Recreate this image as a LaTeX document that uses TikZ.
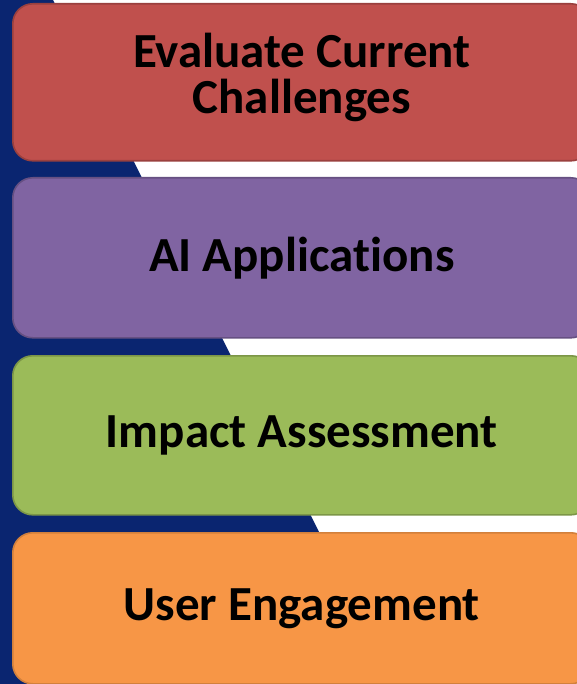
\documentclass[tikz,border=0pt]{standalone}
\usepackage{fontspec}
\setmainfont{Carlito}[RawFeature={-liga}]
\begin{document}
\begin{tikzpicture}[x=1pt,y=-1pt,
  stage/.style={rounded corners=20pt, line width=1.6pt, minimum width=578pt,
    inner sep=0pt},
  label/.style={font=\fontsize{49}{46}\selectfont\bfseries, text=black,
    align=center, inner sep=0pt}]
\definecolor{navy}{HTML}{0A2570}
\definecolor{cred}{HTML}{C0504D}
\definecolor{cpurple}{HTML}{8064A2}
\definecolor{cgreen}{HTML}{9BBB59}
\definecolor{corange}{HTML}{F79646}
\useasboundingbox (0,0) rectangle (577,684);
\clip (0,0) rectangle (577,684);
\fill[white] (0,0) rectangle (577,684);
% slanted dark backdrop behind the stack
\fill[navy] (0,0) -- (53,0) -- (395,684) -- (0,684) -- cycle;
% the four stacked stages, running past the right edge
\node[stage, fill=cred, draw=cred!80!black, minimum height=157pt, anchor=north west] (s1) at (12,3) {};
\node[stage, fill=cpurple, draw=cpurple!80!black, minimum height=160pt, anchor=north west] (s2) at (12,177) {};
\node[stage, fill=cgreen, draw=cgreen!80!black, minimum height=159pt, anchor=north west] (s3) at (12,355) {};
\node[stage, fill=corange, draw=corange!85!black, minimum height=151pt, anchor=north west] (s4) at (12,532) {};
% stage captions
\node[label] (t1) at ([yshift=5pt]s1.center) {Evaluate Current\\Challenges};
\node[label] (t2) at (s2.center) {AI Applications};
\node[label] (t3) at (s3.center) {Impact Assessment};
\node[label] (t4) at (s4.center) {User Engagement};
\end{tikzpicture}
\end{document}
